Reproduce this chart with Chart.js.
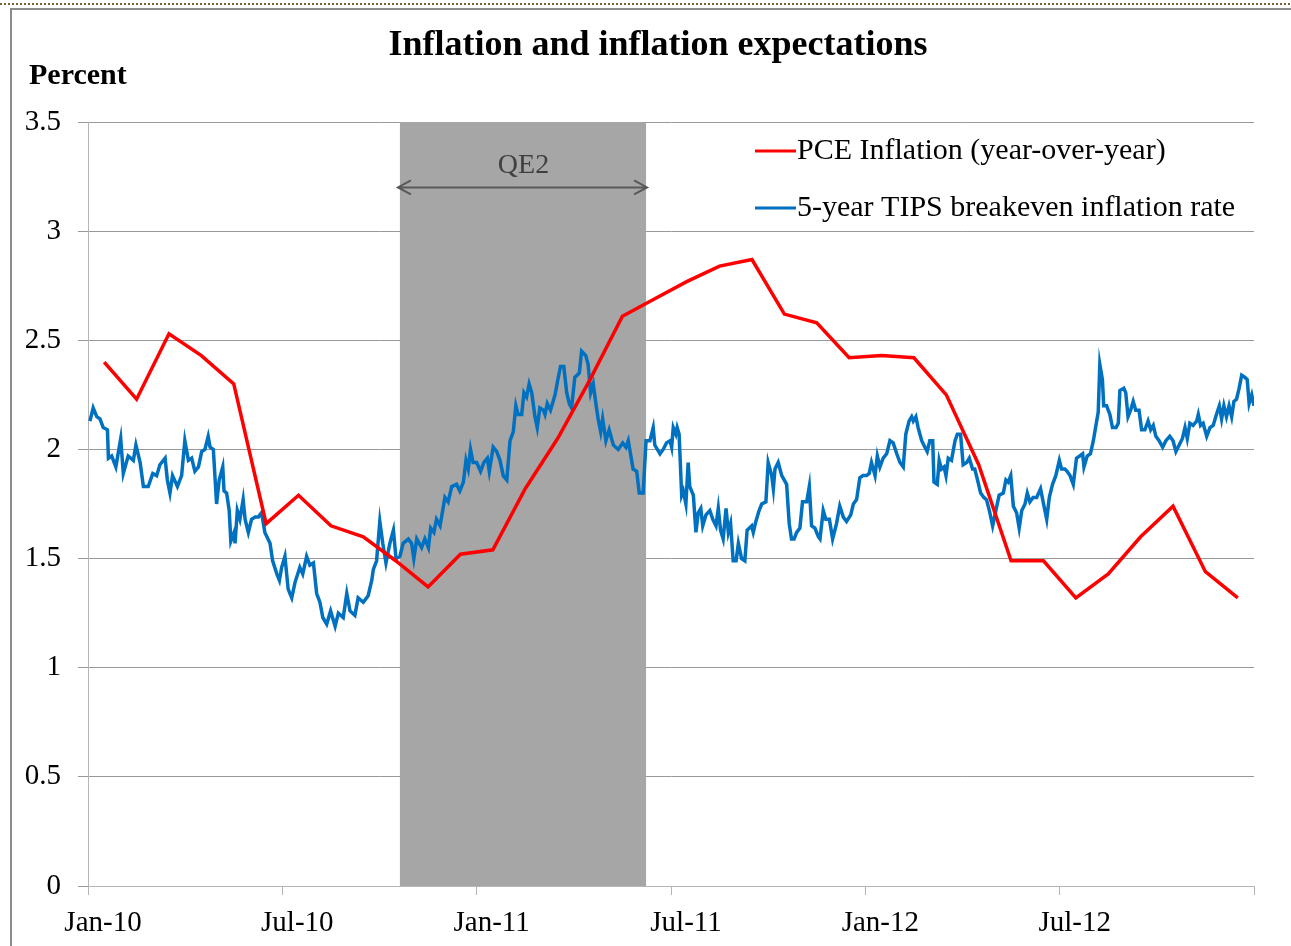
<!DOCTYPE html>
<html>
<head>
<meta charset="utf-8">
<title>Inflation and inflation expectations</title>
<script src="https://cdn.jsdelivr.net/npm/chart.js@4.4.1/dist/chart.umd.min.js"></script>
<style>
  body { margin: 0; background: #fff; }
  #wrap { position: relative; width: 1291px; height: 946px; }
</style>
</head>
<body>
<div id="wrap"><canvas id="chart" width="1291" height="946"></canvas></div>
<script>
// --- data (x in months since Jan 2010) ---
const xTickLabels = ['Jan-10', 'Jul-10', 'Jan-11', 'Jul-11', 'Jan-12', 'Jul-12'];

// PCE inflation, monthly Jan-10 .. Dec-12
const pceValues = [2.40, 2.23, 2.53, 2.43, 2.30, 1.66, 1.79, 1.65, 1.60, 1.49, 1.37, 1.52,
                   1.54, 1.82, 2.05, 2.32, 2.61, 2.69, 2.77, 2.84, 2.87, 2.62, 2.58, 2.42,
                   2.43, 2.42, 2.25, 1.93, 1.49, 1.49, 1.32, 1.43, 1.60, 1.74, 1.44, 1.32];

// 5-year TIPS breakeven, sampled along the daily series
const tipsMonths = [
  0.06,0.16,0.27,0.37,0.47,0.60,0.63,0.73,0.86,1.01, 1.09,1.24,1.40,1.48,1.61,1.71,1.86,2.00,2.12,2.22,
  2.38,2.45,2.53,2.61,2.76,2.89,2.99,3.10,3.20,3.30, 3.41,3.51,3.61,3.71,3.77,3.87,3.97,4.05,4.16,4.20,
  4.28,4.36,4.41,4.51,4.54,4.61,4.69,4.79,4.85,4.95, 5.05,5.16,5.26,5.36,5.46,5.62,5.70,5.83,5.91,5.98,
  6.08,6.18,6.29,6.39,6.54,6.63,6.75,6.85,6.96,7.06, 7.16,7.25,7.37,7.49,7.63,7.73,7.88,7.99,8.09,8.24,
  8.34,8.50,8.65,8.76,8.81,8.91,9.01,9.10,9.20,9.32, 9.43,9.51,9.63,
  9.73,9.89,9.99,10.06,10.15,10.30,10.40,10.51,10.58,10.68,
  10.76,10.87,11.02,11.12,11.23,11.38,11.48,11.59,11.67,11.74,
  11.81,11.89,12.00,12.12,12.22,12.33,12.39,12.51,12.62,12.72,
  12.82,12.93,13.03,13.13,13.21,13.28,13.39,13.46,13.54,13.62,
  13.70,13.80,13.87,13.95,14.06,14.11,14.18,14.28,14.42,14.52,
  14.59,14.69,14.78,14.86,14.93,15.03,15.17,15.24,15.37,15.44,
  15.52,15.60,15.68,15.75,15.83,15.89,15.99,16.09,16.22,16.37,
  16.51,16.61,16.68,16.75,16.83,16.94,17.02,17.14,17.23,17.35,
  17.45,17.50,17.66,17.76,17.86,17.97,18.02,18.07,18.15,18.19,
  18.25,18.33,18.38,18.46,18.53,18.58,18.69,18.77,18.84,18.92,
  18.98,19.08,19.20,19.29,19.39,19.46,19.53,19.61,19.70,19.77,
  19.84,19.92,20.01,20.08,20.18,20.28,20.35,20.49,20.54,20.62,
  20.72,20.80,20.93,21.00,21.11,21.16,21.21,21.31,21.42,21.57,
  21.65,21.72,21.80,21.88,21.98,22.06,22.19,22.27,22.34,22.44,
  22.55,22.60,22.70,22.78,22.89,22.99,23.11,23.21,23.32,23.42,
  23.55,23.63,23.73,23.83,23.93,24.04,24.12,24.19,24.30,24.37,
  24.45,24.55,24.66,24.76,24.86,24.97,25.07,25.17,25.25,25.35,
  25.43,25.48,25.56,25.63,25.74,25.84,25.91,25.99,26.08,26.12,
  26.22,26.28,26.35,26.43,26.49,26.56,26.66,26.77,26.84,26.94,
  27.02,27.13,27.21,27.31,27.38,27.48,27.56,27.66,27.74,27.83,
  27.93,28.03,28.13,28.26,28.34,28.41,28.49,28.57,28.67,28.75,
  28.83,28.93,29.00,29.08,29.18,29.29,29.41,29.49,29.60,29.68,
  29.78,29.88,29.99,30.06,30.16,30.23,30.32,30.42,30.52,30.62,
  30.71,30.75,30.85,30.95,31.04,31.12,31.19,31.24,31.32,31.36,
  31.45,31.55,31.63,31.74,31.81,31.86,31.98,32.04,32.11,32.19,
  32.27,32.35,32.45,32.53,32.63,32.73,32.81,32.89,32.97,33.07,
  33.18,33.28,33.40,33.50,33.59,33.69,33.79,33.87,33.94,34.02,
  34.12,34.23,34.28,34.35,34.43,34.54,34.64,34.74,34.84,34.93,
  35.00,35.07,35.15,35.23,35.31,35.38,35.46,35.54,35.62,35.72,
  35.79,35.85,35.93,36.00
];
const tipsValues = [
  2.13,2.19,2.15,2.14,2.10,2.09,1.96,1.97,1.92,2.05, 1.89,1.97,1.95,2.02,1.94,1.83,1.83,1.89,1.88,1.93,
  1.96,1.86,1.80,1.88,1.83,1.88,2.04,1.95,1.96,1.90, 1.92,1.99,2.00,2.06,2.01,2.00,1.75,1.86,1.92,1.81,
  1.80,1.72,1.58,1.62,1.57,1.72,1.68,1.77,1.68,1.62, 1.68,1.69,1.69,1.71,1.62,1.57,1.49,1.43,1.40,1.46,
  1.51,1.36,1.32,1.39,1.46,1.43,1.51,1.47,1.48,1.34, 1.30,1.23,1.20,1.26,1.19,1.25,1.23,1.34,1.26,1.24,
  1.32,1.30,1.33,1.40,1.45,1.49,1.67,1.57,1.48,1.57, 1.63,1.50,1.51,
  1.57,1.59,1.57,1.50,1.59,1.55,1.59,1.55,1.64,1.62,
  1.68,1.65,1.78,1.76,1.83,1.84,1.81,1.85,1.95,1.91,
  2.00,1.94,1.94,1.90,1.94,1.96,1.90,2.01,1.99,1.95,
  1.88,1.86,2.04,2.08,2.20,2.16,2.16,2.26,2.24,2.30,
  2.26,2.15,2.10,2.19,2.18,2.16,2.21,2.18,2.25,2.33,
  2.38,2.38,2.26,2.21,2.19,2.33,2.35,2.45,2.43,2.39,
  2.26,2.30,2.21,2.14,2.08,2.14,2.04,2.09,2.02,2.00,
  2.03,2.01,2.04,1.98,1.91,1.90,1.80,1.80,2.04,2.04,
  2.10,2.02,1.98,2.00,2.03,2.04,2.01,2.10,2.07,2.10,
  2.07,1.79,1.81,1.75,1.94,1.83,1.79,1.62,1.71,1.73,
  1.65,1.70,1.72,1.68,1.65,1.73,1.63,1.59,1.73,1.62,
  1.66,1.49,1.49,1.57,1.50,1.49,1.63,1.65,1.62,1.67,
  1.72,1.75,1.76,1.94,1.88,1.82,1.91,1.94,1.88,1.84,
  1.66,1.59,1.59,1.62,1.64,1.76,1.76,1.83,1.65,1.64,
  1.60,1.59,1.72,1.68,1.68,1.59,1.66,1.74,1.69,1.67,
  1.70,1.75,1.77,1.87,1.88,1.88,1.89,1.94,1.88,1.97,
  1.92,1.96,1.98,2.04,2.03,1.98,1.94,1.92,2.07,2.13,
  2.15,2.13,2.15,2.10,2.04,2.01,1.99,2.04,2.04,1.85,
  1.84,1.95,1.91,1.92,1.88,1.96,1.95,2.04,2.07,2.07,
  1.93,1.94,1.96,1.91,1.91,1.85,1.80,1.78,1.77,1.72,
  1.65,1.72,1.79,1.80,1.86,1.85,1.88,1.74,1.71,1.64,
  1.72,1.75,1.80,1.76,1.78,1.78,1.82,1.76,1.68,1.78,
  1.84,1.88,1.95,1.91,1.91,1.90,1.88,1.84,1.96,1.97,
  1.98,1.92,1.97,1.98,2.04,2.11,2.17,2.39,2.32,2.20,
  2.20,2.16,2.10,2.10,2.12,2.27,2.28,2.26,2.15,2.18,
  2.22,2.18,2.18,2.09,2.09,2.13,2.09,2.11,2.06,2.04,
  2.01,2.04,2.06,2.04,1.99,2.02,2.05,2.10,2.05,2.12,
  2.11,2.13,2.16,2.11,2.12,2.06,2.10,2.11,2.16,2.20,
  2.14,2.20,2.15,2.20,2.15,2.22,2.23,2.28,2.34,2.33,
  2.32,2.21,2.25,2.20
];

// QE2 shaded period (months since Jan 2010)
const qe2Start = 9.63;
const qe2End = 17.23;

const seriesLabels = ['PCE Inflation (year-over-year)', '5-year TIPS breakeven inflation rate'];

// --- styling ---
const SERIF = "'Liberation Serif', 'Times New Roman', serif";
Chart.defaults.font.family = SERIF;
Chart.defaults.color = '#000';

// page frame, title and "Percent" label
const framePlugin = {
    id: 'frame',
    beforeDraw(chart) {
        const ctx = chart.ctx;
        ctx.save();
        ctx.fillStyle = '#fff';
        ctx.fillRect(0, 0, chart.width, chart.height);
        // dotted rule along the top
        ctx.strokeStyle = '#7b6234';
        ctx.lineWidth = 2;
        ctx.setLineDash([2, 2]);
        ctx.beginPath();
        ctx.moveTo(0, 4);
        ctx.lineTo(chart.width, 4);
        ctx.stroke();
        ctx.setLineDash([]);
        // grey border
        ctx.strokeStyle = '#8c8c8c';
        ctx.lineWidth = 2;
        ctx.beginPath();
        ctx.moveTo(11, chart.height);
        ctx.lineTo(11, 9);
        ctx.lineTo(chart.width, 9);
        ctx.stroke();
        ctx.restore();
    },
    afterDraw(chart) {
        const ctx = chart.ctx;
        ctx.save();
        ctx.fillStyle = '#000';
        ctx.textBaseline = 'middle';
        ctx.textAlign = 'center';
        ctx.font = `bold 36px ${SERIF}`;
        ctx.fillText('Inflation and inflation expectations', 658, 46);
        ctx.textAlign = 'left';
        ctx.font = `bold 30px ${SERIF}`;
        ctx.fillText('Percent', 29, 76);
        ctx.restore();
    }
};

// grey QE2 band with its double arrow
const qe2Plugin = {
    id: 'qe2',
    beforeDatasetsDraw(chart) {
        const { ctx, chartArea, scales } = chart;
        const x0 = scales.x.getPixelForValue(qe2Start);
        const x1 = scales.x.getPixelForValue(qe2End);
        ctx.save();
        ctx.fillStyle = '#a6a6a6';
        ctx.fillRect(x0, chartArea.top, x1 - x0, chartArea.bottom - chartArea.top);
        ctx.restore();
    },
    afterDatasetsDraw(chart) {
        const { ctx, scales } = chart;
        const x0 = scales.x.getPixelForValue(qe2Start) - 2;
        const x1 = scales.x.getPixelForValue(qe2End) + 1;
        const y = scales.y.getPixelForValue(3.2);
        ctx.save();
        ctx.strokeStyle = '#595959';
        ctx.lineWidth = 2;
        ctx.beginPath();
        ctx.moveTo(x0, y);
        ctx.lineTo(x1, y);
        ctx.moveTo(x0 + 13, y - 7);
        ctx.lineTo(x0, y);
        ctx.lineTo(x0 + 13, y + 7);
        ctx.moveTo(x1 - 13, y - 7);
        ctx.lineTo(x1, y);
        ctx.lineTo(x1 - 13, y + 7);
        ctx.stroke();
        ctx.fillStyle = '#404040';
        ctx.font = `28px ${SERIF}`;
        ctx.textAlign = 'center';
        ctx.textBaseline = 'middle';
        ctx.fillText('QE2', (x0 + x1) / 2 + 1, scales.y.getPixelForValue(3.3));
        ctx.restore();
    }
};

// legend inside the plot, top right, short line + label
const legendPlugin = {
    id: 'insideLegend',
    afterDraw(chart) {
        const ctx = chart.ctx;
        const rows = [151, 208];
        ctx.save();
        ctx.font = `30px ${SERIF}`;
        ctx.textBaseline = 'middle';
        ctx.textAlign = 'left';
        chart.data.datasets.forEach((ds, i) => {
            ctx.strokeStyle = ds.borderColor;
            ctx.lineWidth = 3;
            ctx.beginPath();
            ctx.moveTo(755, rows[i]);
            ctx.lineTo(796, rows[i]);
            ctx.stroke();
            ctx.fillStyle = '#000';
            ctx.fillText(ds.label, 797, rows[i]);
        });
        ctx.restore();
    }
};

new Chart(document.getElementById('chart'), {
    type: 'line',
    data: {
        datasets: [{
            label: seriesLabels[0],
            data: pceValues.map((v, i) => ({ x: i + 0.5, y: v })),
            borderColor: '#ff0000',
            borderWidth: 3.5,
            pointRadius: 0,
            tension: 0
        }, {
            label: seriesLabels[1],
            data: tipsMonths.map((m, i) => ({ x: m, y: tipsValues[i] })),
            borderColor: '#0070c0',
            borderWidth: 3.5,
            pointRadius: 0,
            tension: 0
        }]
    },
    options: {
        responsive: false,
        animation: false,
        layout: { padding: { top: 122, right: 37, left: 0, bottom: 0 } },
        plugins: {
            legend: { display: false },
            tooltip: { enabled: false },
            title: { display: false }
        },
        scales: {
            x: {
                type: 'linear',
                min: 0,
                max: 36,
                afterFit: s => { s.height = 60; },
                ticks: {
                    stepSize: 6,
                    autoSkip: false,
                    maxRotation: 0,
                    labelOffset: 15,
                    padding: 11,
                    font: { size: 29 },
                    callback: v => xTickLabels[v / 6] || ''
                },
                grid: { drawOnChartArea: false, drawTicks: true, tickLength: 9, color: '#b5b5b5' },
                border: { color: '#b5b5b5' }
            },
            y: {
                min: 0,
                max: 3.5,
                afterFit: s => { s.width = 88; },
                ticks: {
                    stepSize: 0.5,
                    padding: 17,
                    font: { size: 29 },
                    callback: v => String(v)
                },
                grid: { color: '#999999', tickLength: 10 },
                border: { color: '#b5b5b5' }
            }
        }
    },
    plugins: [framePlugin, qe2Plugin, legendPlugin]
});
</script>
</body>
</html>
